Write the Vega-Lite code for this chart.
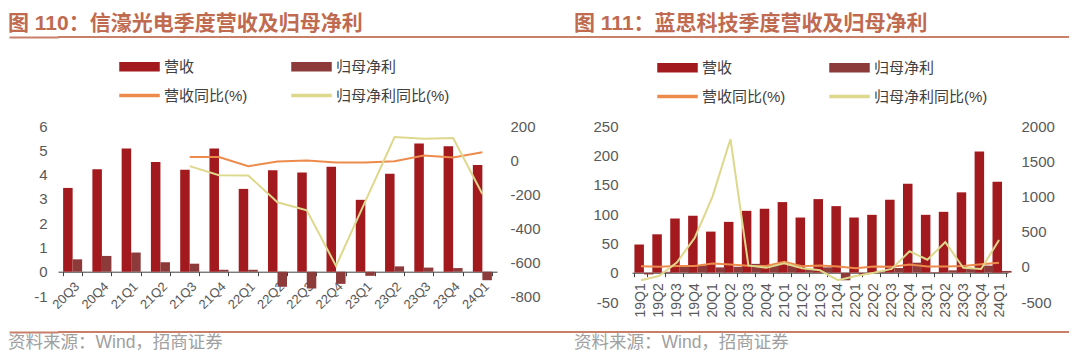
{
  "$schema": "https://vega.github.io/schema/vega-lite/v6.json",
  "background": "white",
  "padding": {"left": 8, "top": 13, "right": 0, "bottom": 0},
  "spacing": 14,
  "config": {
    "font": "Liberation Sans, Noto Sans CJK SC",
    "view": {"stroke": null},
    "axis": {"labelColor": "#595959", "labelFont": "Liberation Sans, Noto Sans CJK SC", "grid": false, "domain": false, "ticks": false, "labelFontSize": 15}
  },
  "datasets": {
    "l_bar": [
      {"q": "20Q3", "s": "营收", "v": 3.45}, {"q": "20Q4", "s": "营收", "v": 4.22}, {"q": "21Q1", "s": "营收", "v": 5.07},
      {"q": "21Q2", "s": "营收", "v": 4.52}, {"q": "21Q3", "s": "营收", "v": 4.20}, {"q": "21Q4", "s": "营收", "v": 5.07},
      {"q": "22Q1", "s": "营收", "v": 3.41}, {"q": "22Q2", "s": "营收", "v": 4.18}, {"q": "22Q3", "s": "营收", "v": 4.09},
      {"q": "22Q4", "s": "营收", "v": 4.32}, {"q": "23Q1", "s": "营收", "v": 2.96}, {"q": "23Q2", "s": "营收", "v": 4.03},
      {"q": "23Q3", "s": "营收", "v": 5.28}, {"q": "23Q4", "s": "营收", "v": 5.17}, {"q": "24Q1", "s": "营收", "v": 4.39},
      {"q": "20Q3", "s": "归母净利", "v": 0.51}, {"q": "20Q4", "s": "归母净利", "v": 0.65}, {"q": "21Q1", "s": "归母净利", "v": 0.79},
      {"q": "21Q2", "s": "归母净利", "v": 0.39}, {"q": "21Q3", "s": "归母净利", "v": 0.33}, {"q": "21Q4", "s": "归母净利", "v": 0.08},
      {"q": "22Q1", "s": "归母净利", "v": 0.08}, {"q": "22Q2", "s": "归母净利", "v": -0.62}, {"q": "22Q3", "s": "归母净利", "v": -0.69},
      {"q": "22Q4", "s": "归母净利", "v": -0.50}, {"q": "23Q1", "s": "归母净利", "v": -0.17}, {"q": "23Q2", "s": "归母净利", "v": 0.22},
      {"q": "23Q3", "s": "归母净利", "v": 0.17}, {"q": "23Q4", "s": "归母净利", "v": 0.15}, {"q": "24Q1", "s": "归母净利", "v": -0.35}
    ],
    "l_line": [
      {"q": "21Q3", "s": "营收同比(%)", "v": 17}, {"q": "21Q4", "s": "营收同比(%)", "v": 17}, {"q": "22Q1", "s": "营收同比(%)", "v": -36},
      {"q": "22Q2", "s": "营收同比(%)", "v": -9}, {"q": "22Q3", "s": "营收同比(%)", "v": -3}, {"q": "22Q4", "s": "营收同比(%)", "v": -15},
      {"q": "23Q1", "s": "营收同比(%)", "v": -15}, {"q": "23Q2", "s": "营收同比(%)", "v": -7}, {"q": "23Q3", "s": "营收同比(%)", "v": 27},
      {"q": "23Q4", "s": "营收同比(%)", "v": 15}, {"q": "24Q1", "s": "营收同比(%)", "v": 46},
      {"q": "21Q3", "s": "归母净利同比(%)", "v": -36}, {"q": "21Q4", "s": "归母净利同比(%)", "v": -89}, {"q": "22Q1", "s": "归母净利同比(%)", "v": -91},
      {"q": "22Q2", "s": "归母净利同比(%)", "v": -249}, {"q": "22Q3", "s": "归母净利同比(%)", "v": -296}, {"q": "22Q4", "s": "归母净利同比(%)", "v": -623},
      {"q": "23Q1", "s": "归母净利同比(%)", "v": -243}, {"q": "23Q2", "s": "归母净利同比(%)", "v": 135}, {"q": "23Q3", "s": "归母净利同比(%)", "v": 125},
      {"q": "23Q4", "s": "归母净利同比(%)", "v": 129}, {"q": "24Q1", "s": "归母净利同比(%)", "v": -200}
    ],
    "r_bar": [
      {"q": "19Q1", "s": "营收", "v": 48.0}, {"q": "19Q2", "s": "营收", "v": 65.4}, {"q": "19Q3", "s": "营收", "v": 92.3},
      {"q": "19Q4", "s": "营收", "v": 96.9}, {"q": "20Q1", "s": "营收", "v": 70.0}, {"q": "20Q2", "s": "营收", "v": 86.6},
      {"q": "20Q3", "s": "营收", "v": 105.4}, {"q": "20Q4", "s": "营收", "v": 108.9}, {"q": "21Q1", "s": "营收", "v": 120.3},
      {"q": "21Q2", "s": "营收", "v": 94.0}, {"q": "21Q3", "s": "营收", "v": 125.4}, {"q": "21Q4", "s": "营收", "v": 113.4},
      {"q": "22Q1", "s": "营收", "v": 94.0}, {"q": "22Q2", "s": "营收", "v": 98.6}, {"q": "22Q3", "s": "营收", "v": 124.3},
      {"q": "22Q4", "s": "营收", "v": 151.7}, {"q": "23Q1", "s": "营收", "v": 98.6}, {"q": "23Q2", "s": "营收", "v": 103.7},
      {"q": "23Q3", "s": "营收", "v": 136.9}, {"q": "23Q4", "s": "营收", "v": 206.6}, {"q": "24Q1", "s": "营收", "v": 155.1},
      {"q": "19Q1", "s": "归母净利", "v": -3}, {"q": "19Q2", "s": "归母净利", "v": 1.5}, {"q": "19Q3", "s": "归母净利", "v": 12},
      {"q": "19Q4", "s": "归母净利", "v": 12.5}, {"q": "20Q1", "s": "归母净利", "v": 9}, {"q": "20Q2", "s": "归母净利", "v": 10},
      {"q": "20Q3", "s": "归母净利", "v": 15}, {"q": "20Q4", "s": "归母净利", "v": 14}, {"q": "21Q1", "s": "归母净利", "v": 12.5},
      {"q": "21Q2", "s": "归母净利", "v": 6}, {"q": "21Q3", "s": "归母净利", "v": 9}, {"q": "21Q4", "s": "归母净利", "v": -13},
      {"q": "22Q1", "s": "归母净利", "v": -4}, {"q": "22Q2", "s": "归母净利", "v": 2}, {"q": "22Q3", "s": "归母净利", "v": 8},
      {"q": "22Q4", "s": "归母净利", "v": 17}, {"q": "23Q1", "s": "归母净利", "v": 1}, {"q": "23Q2", "s": "归母净利", "v": 4},
      {"q": "23Q3", "s": "归母净利", "v": 8}, {"q": "23Q4", "s": "归母净利", "v": 12}, {"q": "24Q1", "s": "归母净利", "v": 3}
    ],
    "r_line": [
      {"q": "19Q1", "s": "营收同比(%)", "v": 8}, {"q": "19Q2", "s": "营收同比(%)", "v": 2}, {"q": "19Q3", "s": "营收同比(%)", "v": 10},
      {"q": "19Q4", "s": "营收同比(%)", "v": 12}, {"q": "20Q1", "s": "营收同比(%)", "v": 46}, {"q": "20Q2", "s": "营收同比(%)", "v": 33},
      {"q": "20Q3", "s": "营收同比(%)", "v": 14}, {"q": "20Q4", "s": "营收同比(%)", "v": 12}, {"q": "21Q1", "s": "营收同比(%)", "v": 71},
      {"q": "21Q2", "s": "营收同比(%)", "v": 8}, {"q": "21Q3", "s": "营收同比(%)", "v": 19}, {"q": "21Q4", "s": "营收同比(%)", "v": 4},
      {"q": "22Q1", "s": "营收同比(%)", "v": -22}, {"q": "22Q2", "s": "营收同比(%)", "v": 5}, {"q": "22Q3", "s": "营收同比(%)", "v": -1},
      {"q": "22Q4", "s": "营收同比(%)", "v": 34}, {"q": "23Q1", "s": "营收同比(%)", "v": 5}, {"q": "23Q2", "s": "营收同比(%)", "v": 5},
      {"q": "23Q3", "s": "营收同比(%)", "v": 10}, {"q": "23Q4", "s": "营收同比(%)", "v": 36}, {"q": "24Q1", "s": "营收同比(%)", "v": 57},
      {"q": "19Q1", "s": "归母净利同比(%)", "v": -190}, {"q": "19Q2", "s": "归母净利同比(%)", "v": -130}, {"q": "19Q3", "s": "归母净利同比(%)", "v": 60},
      {"q": "19Q4", "s": "归母净利同比(%)", "v": 410}, {"q": "20Q1", "s": "归母净利同比(%)", "v": 1000}, {"q": "20Q2", "s": "归母净利同比(%)", "v": 1815},
      {"q": "20Q3", "s": "归母净利同比(%)", "v": 20}, {"q": "20Q4", "s": "归母净利同比(%)", "v": -15}, {"q": "21Q1", "s": "归母净利同比(%)", "v": 50},
      {"q": "21Q2", "s": "归母净利同比(%)", "v": -20}, {"q": "21Q3", "s": "归母净利同比(%)", "v": -50}, {"q": "21Q4", "s": "归母净利同比(%)", "v": -190},
      {"q": "22Q1", "s": "归母净利同比(%)", "v": -130}, {"q": "22Q2", "s": "归母净利同比(%)", "v": -85}, {"q": "22Q3", "s": "归母净利同比(%)", "v": -30},
      {"q": "22Q4", "s": "归母净利同比(%)", "v": 220}, {"q": "23Q1", "s": "归母净利同比(%)", "v": 100}, {"q": "23Q2", "s": "归母净利同比(%)", "v": 350},
      {"q": "23Q3", "s": "归母净利同比(%)", "v": -15}, {"q": "23Q4", "s": "归母净利同比(%)", "v": -30}, {"q": "24Q1", "s": "归母净利同比(%)", "v": 380}
    ]
  },
  "resolve": {"scale": {"color": "independent"}, "legend": {"color": "independent"}},
  "vconcat": [
    {
      "spacing": 8,
      "resolve": {"scale": {"color": "independent"}, "legend": {"color": "independent"}},
      "vconcat": [
        {
          "spacing": 0,
          "hconcat": [
            {
              "width": 483, "height": 2,
              "view": {"fill": "#c8806a", "stroke": null},
              "title": {"text": "图 110：信濠光电季度营收及归母净利", "anchor": "start", "orient": "top", "fontSize": 21, "fontWeight": "bold", "color": "#c06a50", "offset": 2},
              "data": {"values": []},
              "mark": {"type": "point", "opacity": 0},
              "encoding": {"y": {"field": "k", "type": "quantitative", "scale": {"domain": [0, 1]},
                "axis": {"values": [0.5], "labels": false, "ticks": true, "tickSize": 49, "tickWidth": 2, "tickColor": "#c8806a", "domain": false, "title": null, "grid": false}}}
            },
            {
              "width": 528, "height": 2,
              "view": {"fill": "#c8806a", "stroke": null},
              "title": {"text": "图 111：蓝思科技季度营收及归母净利", "anchor": "start", "orient": "top", "fontSize": 21, "fontWeight": "bold", "color": "#c06a50", "offset": 2, "dx": 33},
              "data": {"values": []},
              "mark": "point",
              "encoding": {}
            }
          ]
        },
        {
          "spacing": 0,
          "resolve": {"scale": {"color": "independent"}, "legend": {"color": "independent"}},
          "hconcat": [
            {
              "width": 439, "height": 170,
              "resolve": {"scale": {"y": "independent"}},
              "layer": [
                {
                  "data": {"name": "l_bar"},
                  "mark": {"type": "bar"},
                  "encoding": {
                    "x": {"field": "q", "type": "nominal", "sort": null,
                      "scale": {"domain": ["20Q3","20Q4","21Q1","21Q2","21Q3","21Q4","22Q1","22Q2","22Q3","22Q4","23Q1","23Q2","23Q3","23Q4","24Q1"], "paddingInner": 0.35, "paddingOuter": 0.175},
                      "axis": {"title": null, "orient": "bottom", "offset": -24.3, "domain": true, "domainColor": "#404040", "ticks": true, "tickBand": "extent", "tickColor": "#404040", "tickSize": 4, "labelAngle": -45, "labelFontSize": 13, "labelPadding": 4}},
                    "xOffset": {"field": "s", "type": "nominal", "sort": ["营收", "归母净利"], "scale": {"paddingInner": 0, "paddingOuter": 0}},
                    "y": {"field": "v", "type": "quantitative", "scale": {"domain": [-1, 6], "nice": false},
                      "axis": {"title": null, "values": [-1, 0, 1, 2, 3, 4, 5, 6], "labelPadding": 11, "labelExpr": "'' + datum.value"}},
                    "color": {"field": "s", "type": "nominal",
                      "scale": {"domain": ["营收", "归母净利", "营收同比(%)", "归母净利同比(%)"], "range": ["#a31a1e", "#8c3a3a", "#ed8b4c", "#ded88c"]},
                      "legend": {"orient": "none", "legendX": 61, "legendY": -80, "direction": "horizontal", "columns": 2, "columnPadding": 41, "rowPadding": -9, "title": null,
                        "symbolSize": 1521, "labelFontSize": 15, "labelColor": "#404040", "labelOffset": 4, "padding": 0,
                        "encode": {"symbols": {"update": {
                          "shape": {"signal": "(datum.value === '营收' || datum.value === '归母净利') ? 'M-1,-0.2H1V0.2H-1Z' : 'M-1,-0.045H1V0.045H-1Z'"},
                          "fill": {"signal": "datum.value === '营收' ? '#a31a1e' : datum.value === '归母净利' ? '#8c3a3a' : datum.value === '营收同比(%)' ? '#ed8b4c' : '#ded88c'"},
                          "stroke": {"value": "transparent"}, "opacity": {"value": 1}}}}}}
                  }
                },
                {
                  "data": {"name": "l_line"},
                  "mark": {"type": "line", "strokeWidth": 2},
                  "encoding": {
                    "x": {"field": "q", "type": "nominal", "sort": null},
                    "y": {"field": "v", "type": "quantitative", "scale": {"domain": [-800, 200], "nice": false},
                      "axis": {"orient": "right", "title": null, "values": [-800, -600, -400, -200, 0, 200], "labelPadding": 13, "labelExpr": "'' + datum.value"}},
                    "color": {"field": "s", "type": "nominal", "scale": {"domain": ["营收", "归母净利", "营收同比(%)", "归母净利同比(%)"]}}
                  }
                }
              ]
            },
            {
              "width": 376, "height": 176,
              "resolve": {"scale": {"y": "independent"}},
              "layer": [
                {
                  "data": {"name": "r_bar"},
                  "mark": {"type": "bar"},
                  "encoding": {
                    "x": {"field": "q", "type": "nominal", "sort": null,
                      "scale": {"domain": ["19Q1","19Q2","19Q3","19Q4","20Q1","20Q2","20Q3","20Q4","21Q1","21Q2","21Q3","21Q4","22Q1","22Q2","22Q3","22Q4","23Q1","23Q2","23Q3","23Q4","24Q1"], "paddingInner": 0.27, "paddingOuter": 0.135},
                      "axis": {"title": null, "orient": "bottom", "offset": -29.3, "domain": true, "domainColor": "#404040", "ticks": true, "tickBand": "extent", "tickColor": "#404040", "tickSize": 4, "labelAngle": -90, "labelFontSize": 14, "labelPadding": 6}},
                    "xOffset": {"field": "s", "type": "nominal", "sort": ["营收", "归母净利"], "scale": {"paddingInner": 0, "paddingOuter": 0}},
                    "y": {"field": "v", "type": "quantitative", "scale": {"domain": [-50, 250], "nice": false},
                      "axis": {"title": " ", "titleFontSize": 1, "titlePadding": 50, "values": [-50, 0, 50, 100, 150, 200, 250], "labelPadding": 14, "labelExpr": "'' + datum.value"}},
                    "color": {"field": "s", "type": "nominal",
                      "scale": {"domain": ["营收", "归母净利", "营收同比(%)", "归母净利同比(%)"], "range": ["#a31a1e", "#8c3a3a", "#ed8b4c", "#ded88c"]},
                      "legend": {"orient": "none", "legendX": 25, "legendY": -79, "direction": "horizontal", "columns": 2, "columnPadding": 41, "rowPadding": -9, "title": null,
                        "symbolSize": 1521, "labelFontSize": 15, "labelColor": "#404040", "labelOffset": 4, "padding": 0,
                        "encode": {"symbols": {"update": {
                          "shape": {"signal": "(datum.value === '营收' || datum.value === '归母净利') ? 'M-1,-0.2H1V0.2H-1Z' : 'M-1,-0.045H1V0.045H-1Z'"},
                          "fill": {"signal": "datum.value === '营收' ? '#a31a1e' : datum.value === '归母净利' ? '#8c3a3a' : datum.value === '营收同比(%)' ? '#ed8b4c' : '#ded88c'"},
                          "stroke": {"value": "transparent"}, "opacity": {"value": 1}}}}}}
                  }
                },
                {
                  "data": {"name": "r_line"},
                  "mark": {"type": "line", "strokeWidth": 2},
                  "encoding": {
                    "x": {"field": "q", "type": "nominal", "sort": null},
                    "y": {"field": "v", "type": "quantitative", "scale": {"domain": [-500, 2000], "nice": false},
                      "axis": {"orient": "right", "title": null, "values": [-500, 0, 500, 1000, 1500, 2000], "labelPadding": 13, "labelExpr": "'' + datum.value"}},
                    "color": {"field": "s", "type": "nominal", "scale": {"domain": ["营收", "归母净利", "营收同比(%)", "归母净利同比(%)"]}}
                  }
                }
              ]
            }
          ]
        }
      ]
    },
    {
      "spacing": 0,
      "hconcat": [
        {
          "width": 483, "height": 2,
          "view": {"fill": "#c8806a", "stroke": null},
          "title": {"text": "资料来源：Wind，招商证券", "anchor": "start", "orient": "bottom", "fontSize": 17.5, "fontWeight": "normal", "color": "#a0a0a0", "offset": 1},
          "data": {"values": []},
          "mark": {"type": "point", "opacity": 0},
          "encoding": {"y": {"field": "k", "type": "quantitative", "scale": {"domain": [0, 1]},
            "axis": {"values": [0.5], "labels": false, "ticks": true, "tickSize": 49, "tickWidth": 2, "tickColor": "#c8806a", "domain": false, "title": null, "grid": false}}}
        },
        {
          "width": 528, "height": 2,
          "view": {"fill": "#c8806a", "stroke": null},
          "title": {"text": "资料来源：Wind，招商证券", "anchor": "start", "orient": "bottom", "fontSize": 17.5, "fontWeight": "normal", "color": "#a0a0a0", "offset": 1, "dx": 33},
          "data": {"values": []},
          "mark": "point",
          "encoding": {}
        }
      ]
    }
  ]
}
